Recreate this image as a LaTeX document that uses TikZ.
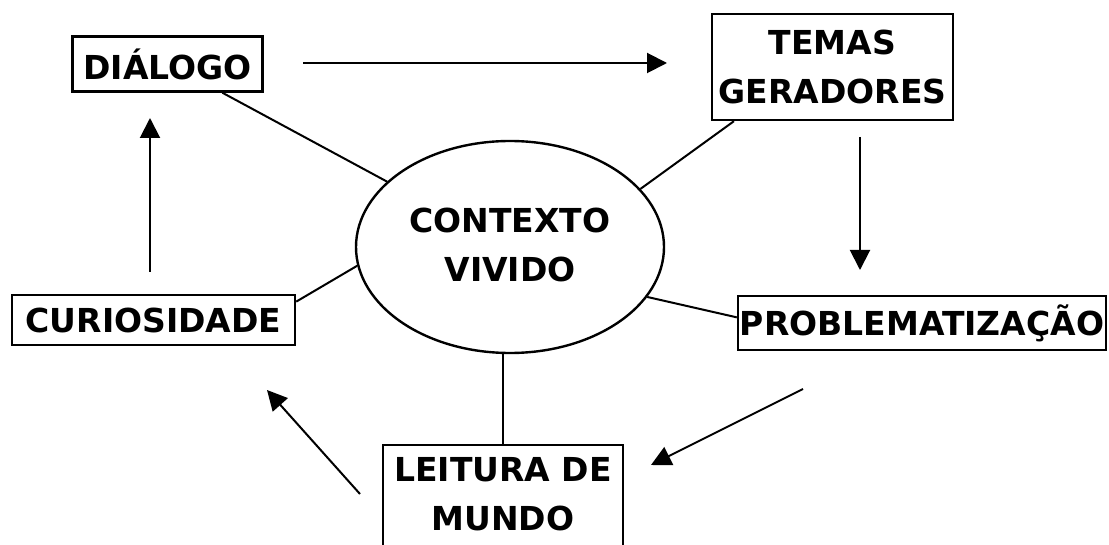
\documentclass[tikz,border=0pt]{standalone}
\usepackage{fontspec}
\setmainfont{DejaVu Sans}
\usetikzlibrary{shapes.geometric,arrows.meta,calc}
\tikzset{
  lbl/.style={font=\bfseries\fontsize{33}{49}\selectfont, align=center, inner sep=0pt},
  boxnode/.style={draw, line width=2.4pt, inner sep=0pt},
  link/.style={line width=2pt},
  flow/.style={line width=2pt, -{Triangle[length=20pt,width=20pt]}}
}
\begin{document}
\begin{tikzpicture}[x=1pt,y=-1pt]
\useasboundingbox (0,0) rectangle (1109,545);
\clip (0,0) rectangle (1109,545);
\fill[white] (0,0) rectangle (1109,545);
% nodes
\node[draw, ellipse, line width=2.4pt, minimum width=308pt, minimum height=212pt, inner sep=0pt] (ctx) at (510,247) {};
\node[lbl] (ctxtxt) at (510,245) {CONTEXTO\\VIVIDO};
\node[boxnode, lbl, minimum width=190pt, minimum height=55pt] (dia) at (167.5,64) {DIÁLOGO};
\node[boxnode, lbl, minimum width=241pt, minimum height=106pt] (tem) at (832.5,67) {TEMAS\\GERADORES};
\node[boxnode, lbl, minimum width=368pt, minimum height=54pt] (prob) at (922,323) {PROBLEMATIZAÇÃO};
\node[boxnode, minimum width=240pt, minimum height=120pt] (leit) at (503,505) {};
\node[lbl] (leittxt) at (503,494) {LEITURA DE\\MUNDO};
\node[boxnode, lbl, minimum width=283pt, minimum height=50pt] (cur) at (153.5,320) {CURIOSIDADE};
% links to the centre
\draw[link] ($(dia.south west)!0.785!(dia.south east)$) -- (ctx.152);
\draw[link] ($(tem.south west)!0.095!(tem.south east)$) -- (ctx.24);
\draw[link] ($(cur.north east)!0.15!(cur.south east)$) -- (ctx.187.5);
\draw[link] ($(prob.north west)!0.4!(prob.south west)$) -- (ctx.340.8);
\draw[link] (leit.north) -- (leit.north |- ctx.south);
% flow arrows
\coordinate (f1s) at (303,63);  \coordinate (f1e) at (667,63);
\coordinate (f2s) at (860,137); \coordinate (f2e) at (860,270);
\coordinate (f3s) at (803,389); \coordinate (f3e) at (651,465);
\coordinate (f4s) at (360,494); \coordinate (f4e) at (267,390);
\coordinate (f5s) at (150,272); \coordinate (f5e) at (150,118);
\draw[flow] (f1s) -- (f1e);
\draw[flow] (f2s) -- (f2e);
\draw[flow] (f3s) -- (f3e);
\draw[flow] (f4s) -- (f4e);
\draw[flow] (f5s) -- (f5e);
\end{tikzpicture}
\end{document}
